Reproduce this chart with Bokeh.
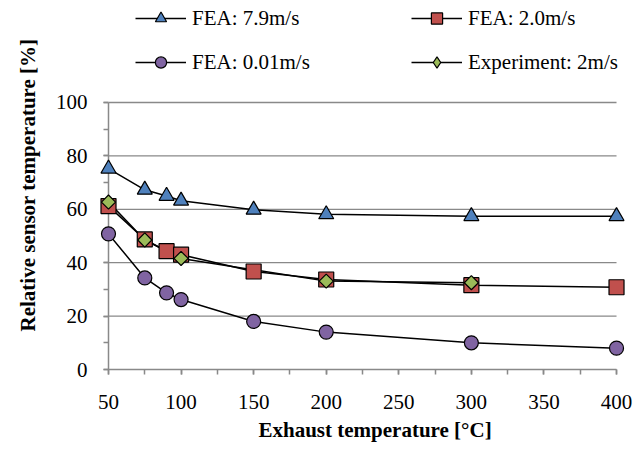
from bokeh.plotting import figure
from bokeh.models import Range1d, SingleIntervalTicker, Legend, LegendItem, Title
from bokeh.embed import file_html
from bokeh.resources import INLINE
import numpy as np

# ---- data ----
x_fea = [50, 75, 90, 100, 150, 200, 300, 400]
fea_79 = [75.2, 67.3, 65.0, 63.2, 59.8, 58.1, 57.4, 57.4]
fea_20 = [61.2, 48.7, 44.3, 43.0, 36.7, 33.7, 31.6, 30.8]
fea_001 = [50.8, 34.3, 28.7, 26.2, 18.0, 14.0, 10.0, 8.0]
x_exp = [50, 75, 100, 200, 300]
exp_2 = [62.7, 48.5, 41.6, 33.1, 32.5]

labels = ["FEA: 7.9m/s", "FEA: 2.0m/s", "FEA: 0.01m/s", "Experiment: 2m/s"]
x_title = "Exhaust temperature [°C]"
y_title = "Relative sensor temperature [%]"
x_bounds = (50, 400)
y_bounds = (0, 100)
y_grid = [20, 40, 60, 80, 100]

FONT = "Liberation Serif"
GRAY = "#898989"

# frame reaches the top and right of the canvas so that the legend sits inside it;
# the axes are bounded to 50..400 and 0..100
p = figure(width=633, height=455, output_backend="svg", toolbar_location=None, title=None,
           x_range=Range1d(x_bounds[0], 411.7), y_range=Range1d(0, 138.2),
           min_border_left=108, min_border_right=0, min_border_top=0, min_border_bottom=86)
p.outline_line_color = None
p.background_fill_color = "white"

# axes
p.xaxis.ticker = SingleIntervalTicker(interval=50, num_minor_ticks=2)
p.yaxis.ticker = SingleIntervalTicker(interval=20, num_minor_ticks=2)
for ax in (p.xaxis[0], p.yaxis[0]):
    ax.axis_line_color = GRAY
    ax.axis_line_width = 1.5
    ax.major_tick_line_color = GRAY
    ax.minor_tick_line_color = GRAY
    ax.major_tick_line_width = 1.5
    ax.minor_tick_line_width = 1.5
    ax.major_tick_in = 0
    ax.minor_tick_in = 0
    ax.major_tick_out = 5
    ax.minor_tick_out = 5
    ax.major_label_text_font = FONT
    ax.major_label_text_font_size = "21px"
    ax.major_label_text_color = "black"
    ax.axis_label_text_font = FONT
    ax.axis_label_text_font_size = "21px"
    ax.axis_label_text_font_style = "bold"
    ax.axis_label_text_color = "black"
p.xaxis.bounds = x_bounds
p.yaxis.bounds = y_bounds
p.yaxis.axis_label = y_title
p.xaxis.major_label_standoff = 20
p.yaxis.major_label_standoff = 16
p.yaxis.axis_label_standoff = 13

# x axis title (placed as a title below the axis, like the original offset to the right)
p.add_layout(Title(text=x_title, align="left", offset=150, vertical_align="top", standoff=12,
                   text_font=FONT, text_font_size="21px", text_font_style="bold",
                   text_color="black"), "below")

p.xgrid.visible = False
p.ygrid.visible = False
# horizontal gridlines limited to the axis extent
p.segment(x0=[x_bounds[0]] * len(y_grid), y0=y_grid, x1=[x_bounds[1]] * len(y_grid), y1=y_grid,
          line_color=GRAY, line_width=1.3, level="underlay")

# series (markers on the overlay level so that they are not cut at the frame edge)
l1 = p.line(x_fea, fea_79, line_color="black", line_width=1.5)
l2 = p.line(x_fea, fea_20, line_color="black", line_width=1.5)
l3 = p.line(x_fea, fea_001, line_color="black", line_width=1.5)
l4 = p.line(x_exp, exp_2, line_color="black", line_width=1.5)
s1 = p.scatter(x_fea, fea_79, marker="triangle", size=15, fill_color="#4F81BD",
               line_color="black", line_width=1.2, level="overlay")
s2 = p.scatter(x_fea, fea_20, marker="square", size=15, fill_color="#C0504D",
               line_color="black", line_width=1.2, level="overlay")
s3 = p.scatter(x_fea, fea_001, marker="circle", size=14, fill_color="#8064A2",
               line_color="black", line_width=1.2, level="overlay")
s4 = p.scatter(x_exp, exp_2, marker="square", size=10, angle=np.pi / 4,
               fill_color="#9BBB59", line_color="black", line_width=1.2, level="overlay")
# legend swatch for the diamond (legend swatches ignore marker angle); hidden in the plot
s4_key = p.scatter(x_exp, exp_2, marker="diamond", size=14,
                   fill_color="#9BBB59", line_color="black", line_width=1.2, visible=False)

common = dict(orientation="vertical", glyph_width=51, glyph_height=28, label_height=28,
              label_standoff=6, spacing=16, padding=0, margin=0,
              border_line_color=None, background_fill_alpha=0, inactive_fill_alpha=0,
              label_text_font=FONT, label_text_font_size="21px", label_text_color="black")
leg_a = Legend(items=[LegendItem(label=labels[0], renderers=[l1, s1]),
                      LegendItem(label=labels[2], renderers=[l3, s3])],
               location=(27, 293), **common)
leg_b = Legend(items=[LegendItem(label=labels[1], renderers=[l2, s2]),
                      LegendItem(label=labels[3], renderers=[l4, s4_key])],
               location=(303, 293), **common)
p.add_layout(leg_a, "center")
p.add_layout(leg_b, "center")

open("out.html", "w").write(file_html(p, INLINE))
